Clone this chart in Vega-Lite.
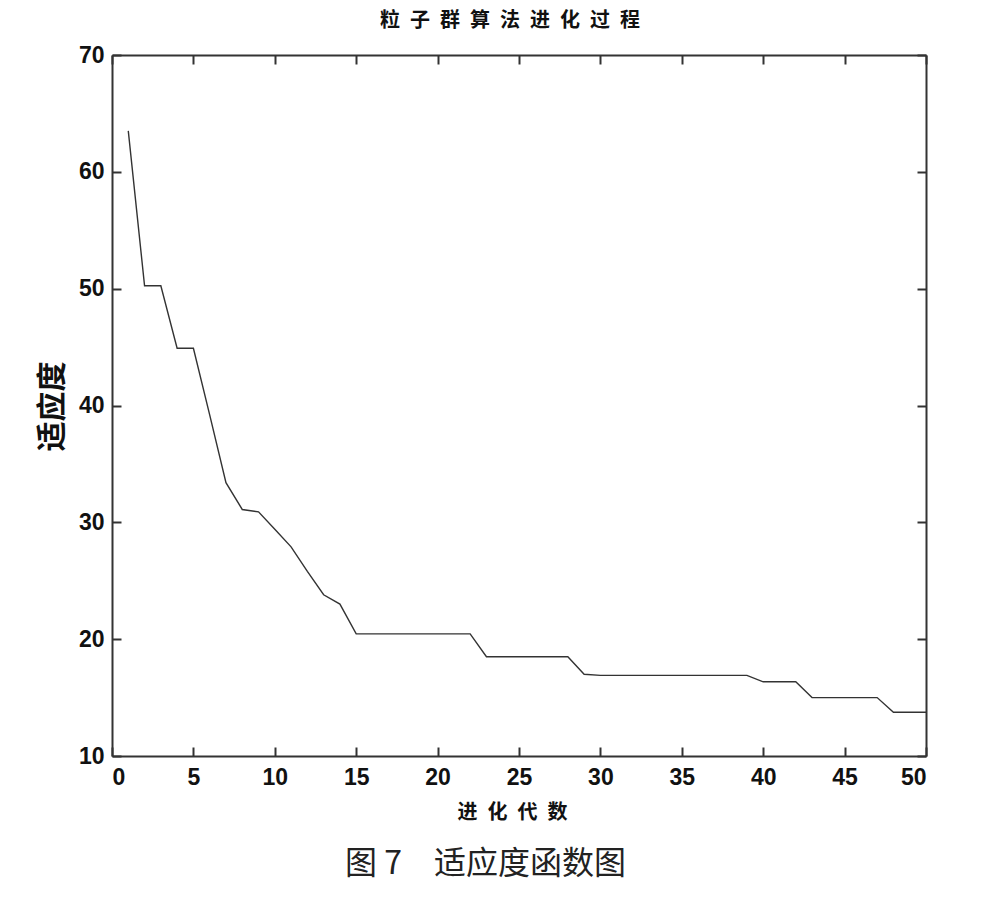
{
  "$schema": "https://vega.github.io/schema/vega-lite/v6.json",
  "autosize": {"type": "none"},
  "padding": {"left": 112, "top": 55, "right": 74, "bottom": 149},
  "width": 814,
  "height": 701,
  "background": "white",
  "config": {
    "view": {"stroke": null},
    "axis": {
      "domainColor": "#333",
      "domainWidth": 2,
      "tickColor": "#333",
      "tickWidth": 2,
      "tickSize": -9,
      "grid": false,
      "labelFont": "Liberation Sans",
      "labelFontWeight": "bold",
      "labelFontSize": 23,
      "labelColor": "#111"
    }
  },
  "title": {
    "text": "粒\u2002子\u2002群\u2002算\u2002法\u2002进\u2002化\u2002过\u2002程",
    "font": "Noto Sans CJK SC",
    "fontWeight": "bold",
    "fontSize": 20,
    "color": "#111",
    "anchor": "middle",
    "dx": -9,
    "offset": 13
  },
  "data": {
    "values": [
      {"gen": 1, "fit": 63.5}, {"gen": 2, "fit": 50.25}, {"gen": 3, "fit": 50.25},
      {"gen": 4, "fit": 44.9}, {"gen": 5, "fit": 44.9}, {"gen": 6, "fit": 39.2},
      {"gen": 7, "fit": 33.4}, {"gen": 8, "fit": 31.1}, {"gen": 9, "fit": 30.9},
      {"gen": 10, "fit": 29.4}, {"gen": 11, "fit": 27.9}, {"gen": 12, "fit": 25.8},
      {"gen": 13, "fit": 23.8}, {"gen": 14, "fit": 23.0}, {"gen": 15, "fit": 20.45},
      {"gen": 16, "fit": 20.45}, {"gen": 17, "fit": 20.45}, {"gen": 18, "fit": 20.45},
      {"gen": 19, "fit": 20.45}, {"gen": 20, "fit": 20.45}, {"gen": 21, "fit": 20.45},
      {"gen": 22, "fit": 20.45}, {"gen": 23, "fit": 18.5}, {"gen": 24, "fit": 18.5},
      {"gen": 25, "fit": 18.5}, {"gen": 26, "fit": 18.5}, {"gen": 27, "fit": 18.5},
      {"gen": 28, "fit": 18.5}, {"gen": 29, "fit": 17.0}, {"gen": 30, "fit": 16.9},
      {"gen": 31, "fit": 16.9}, {"gen": 32, "fit": 16.9}, {"gen": 33, "fit": 16.9},
      {"gen": 34, "fit": 16.9}, {"gen": 35, "fit": 16.9}, {"gen": 36, "fit": 16.9},
      {"gen": 37, "fit": 16.9}, {"gen": 38, "fit": 16.9}, {"gen": 39, "fit": 16.9},
      {"gen": 40, "fit": 16.35}, {"gen": 41, "fit": 16.35}, {"gen": 42, "fit": 16.35},
      {"gen": 43, "fit": 15.0}, {"gen": 44, "fit": 15.0}, {"gen": 45, "fit": 15.0},
      {"gen": 46, "fit": 15.0}, {"gen": 47, "fit": 15.0}, {"gen": 48, "fit": 13.75},
      {"gen": 49, "fit": 13.75}, {"gen": 50, "fit": 13.75}
    ]
  },
  "layer": [
    {
      "mark": {"type": "line", "color": "#333", "strokeWidth": 1.4},
      "encoding": {
        "x": {
          "field": "gen", "type": "quantitative",
          "scale": {"domain": [0, 50], "nice": false, "zero": false},
          "axis": {
            "orient": "bottom", "values": [0,5,10,15,20,25,30,35,40,45,50],
            "labelPadding": 19, "title": "进\u2002化\u2002代\u2002数",
            "titleFont": "Noto Sans CJK SC", "titleFontWeight": "bold",
            "titleFontSize": 20, "titleColor": "#111",
            "titleX": 400, "titleY": 56, "titleBaseline": "middle"
          }
        },
        "y": {
          "field": "fit", "type": "quantitative",
          "scale": {"domain": [10, 70], "nice": false, "zero": false},
          "axis": {
            "orient": "left", "values": [10,20,30,40,50,60,70],
            "labelPadding": 17, "title": "适应度",
            "titleFont": "Noto Sans CJK SC", "titleFontWeight": "bold",
            "titleFontSize": 30, "titleColor": "#111",
            "titleX": -60, "titleY": 351, "titleBaseline": "middle", "titleAngle": -90
          }
        }
      }
    },
    {
      "mark": {"type": "line", "opacity": 0},
      "encoding": {
        "x": {"field": "gen", "type": "quantitative",
          "axis": {"orient": "top", "values": [0,5,10,15,20,25,30,35,40,45,50], "labels": false, "title": null}},
        "y": {"field": "fit", "type": "quantitative",
          "axis": {"orient": "right", "values": [10,20,30,40,50,60,70], "labels": false, "title": null}}
      }
    },
    {
      "mark": {"type": "line", "opacity": 0},
      "encoding": {
        "x": {"field": "gen", "type": "quantitative",
          "axis": {"orient": "bottom", "labels": false, "ticks": false, "domain": false,
            "title": "图 7　适应度函数图",
            "titleFont": "Noto Sans CJK SC", "titleFontWeight": "normal",
            "titleFontSize": 32, "titleColor": "#222",
            "titleX": 373, "titleY": 107, "titleBaseline": "middle"}},
        "y": {"field": "fit", "type": "quantitative", "axis": null}
      }
    }
  ],
  "resolve": {"axis": {"x": "independent", "y": "independent"}}
}
